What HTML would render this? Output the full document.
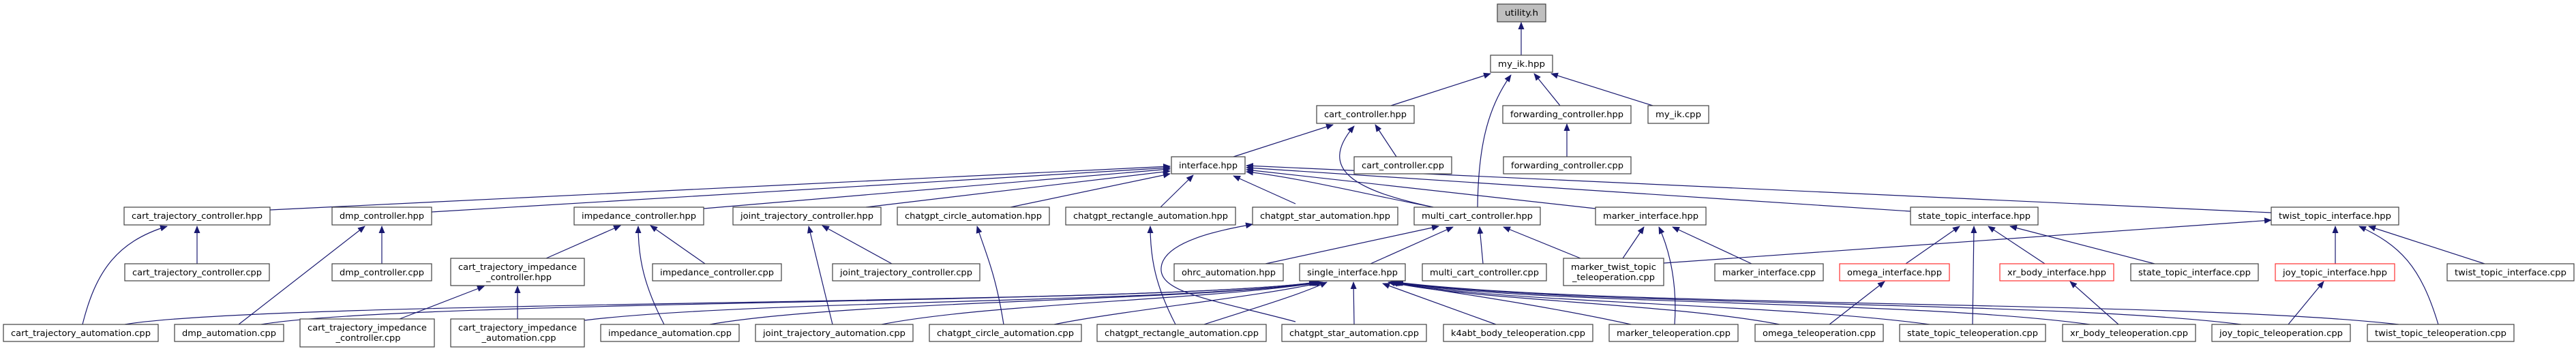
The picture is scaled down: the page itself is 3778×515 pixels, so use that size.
<!DOCTYPE html>
<html><head><meta charset="utf-8"><style>
html,body{margin:0;padding:0;background:#fff}
svg{display:block}
text{font-family:"DejaVu Sans Condensed","DejaVu Sans","Liberation Sans",sans-serif;font-size:12px;fill:#000;text-anchor:middle}
.b{fill:#fff;stroke:#404040;stroke-width:1.2}
.r{fill:#fff;stroke:#ff3030;stroke-width:1.2}
.e{fill:none;stroke:#191970;stroke-width:1.2;marker-end:url(#a)}
</style></head><body>
<svg width="3778" height="515" viewBox="0 0 3778 515" xmlns="http://www.w3.org/2000/svg">
<defs><marker id="a" markerWidth="11" markerHeight="9" refX="10" refY="4.5" orient="auto" markerUnits="userSpaceOnUse"><path d="M0,0 L11,4.5 L0,9 z" fill="#191970"/></marker></defs>

<path class="e" d="M2231,81 L2231,33"/>
<path class="e" d="M2040,155 L2186,108"/>
<path class="e" d="M2167,304 C2168,220 2180,160 2216,110"/>
<path class="e" d="M2288,155 L2250,108"/>
<path class="e" d="M2424,155 L2275,108"/>
<path class="e" d="M2298,230 L2298,182"/>
<path class="e" d="M1809,230 L1955,183"/>
<path class="e" d="M2048,230 L2017,183"/>
<path class="e" d="M2102,304 C1990,280 1930,250 1986,185"/>

<path class="e" d="M396,308 L1716,244"/>
<path class="e" d="M633,311 L1716,246"/>
<path class="e" d="M1032,306 L1716,248"/>
<path class="e" d="M1270,304 L1716,251"/>
<path class="e" d="M1482,304 L1716,255"/>
<path class="e" d="M1702,304 L1750,257"/>
<path class="e" d="M1900,299 L1809,258"/>
<path class="e" d="M2102,304 C1980,280 1900,260 1828,252"/>
<path class="e" d="M2340,306 L1828,249"/>
<path class="e" d="M2802,310 L1828,246"/>
<path class="e" d="M3331,312 L1828,243"/>

<path class="e" d="M289,387 L289,332"/>
<path class="e" d="M121,476 C140,400 170,355 245,332"/>
<path class="e" d="M560,387 L560,332"/>
<path class="e" d="M350,476 L535,332"/>
<path class="e" d="M801,379 L910,331"/>
<path class="e" d="M974,476 C945,420 936,380 936,332"/>
<path class="e" d="M1034,387 L954,331"/>
<path class="e" d="M586,468 L710,420"/>
<path class="e" d="M759,468 L759,420"/>
<path class="e" d="M1221,476 L1186,332"/>
<path class="e" d="M1308,387 L1206,331"/>
<path class="e" d="M1472,476 C1460,400 1445,370 1433,332"/>
<path class="e" d="M1724,476 C1695,420 1687,380 1687,332"/>
<path class="e" d="M1900,472 C1780,440 1700,430 1703,393 C1706,352 1800,336 1837,329"/>
<path class="e" d="M1856,387 L2110,332"/>
<path class="e" d="M2010,387 L2131,333"/>
<path class="e" d="M2175,387 L2170,333"/>
<path class="e" d="M2318,379 L2205,333"/>
<path class="e" d="M2380,379 L2411,333"/>
<path class="e" d="M2456,476 C2460,420 2450,370 2433,333"/>
<path class="e" d="M2569,387 L2453,333"/>
<path class="e" d="M2440,386 L3331,323"/>
<path class="e" d="M2795,387 L2874,332"/>
<path class="e" d="M2893,476 L2895,332"/>
<path class="e" d="M2999,387 L2916,332"/>
<path class="e" d="M3160,387 L2948,332"/>
<path class="e" d="M2683,476 L2764,413"/>
<path class="e" d="M3107,476 L3036,413"/>
<path class="e" d="M3425,387 L3425,332"/>
<path class="e" d="M3576,476 C3550,390 3520,360 3460,332"/>
<path class="e" d="M3644,387 L3474,332"/>
<path class="e" d="M3356,476 L3408,413"/>

<path class="e" d="M183,476 C400,440 1700,448 1930,414"/>
<path class="e" d="M383,476 C600,440 1700,446 1932,414"/>
<path class="e" d="M857,470 C1100,440 1750,444 1934,414"/>
<path class="e" d="M1041,476 C1250,440 1760,442 1936,414"/>
<path class="e" d="M1293,476 C1450,445 1780,440 1938,414"/>
<path class="e" d="M1546,476 C1650,455 1850,435 1940,414"/>
<path class="e" d="M1766,476 C1830,455 1900,435 1946,414"/>
<path class="e" d="M1986,476 L1985,414"/>
<path class="e" d="M2194,476 L2028,416"/>
<path class="e" d="M2392,476 C2250,445 2100,425 2036,414"/>
<path class="e" d="M2610,476 C2450,445 2150,440 2040,414"/>
<path class="e" d="M2830,476 C2600,445 2200,445 2042,414"/>
<path class="e" d="M3065,476 C2800,440 2250,448 2044,414"/>
<path class="e" d="M3287,476 C3000,440 2300,450 2046,414"/>
<path class="e" d="M3518,476 C3200,440 2350,452 2048,414"/>

<rect x="2196" y="6" width="71" height="26" fill="#bfbfbf" stroke="#404040" stroke-width="1.2"/><text x="2231.5" y="23" textLength="49" lengthAdjust="spacingAndGlyphs">utility.h</text>
<rect class="b" x="2186" y="81" width="91" height="25"/><text x="2231.5" y="98" textLength="69" lengthAdjust="spacingAndGlyphs">my_ik.hpp</text>
<rect class="b" x="1931" y="155" width="143" height="26"/><text x="2002.5" y="172" textLength="121" lengthAdjust="spacingAndGlyphs">cart_controller.hpp</text>
<rect class="b" x="2204" y="155" width="188" height="26"/><text x="2298" y="172" textLength="166" lengthAdjust="spacingAndGlyphs">forwarding_controller.hpp</text>
<rect class="b" x="2417" y="155" width="89" height="26"/><text x="2461.5" y="172" textLength="67" lengthAdjust="spacingAndGlyphs">my_ik.cpp</text>
<rect class="b" x="1718" y="230" width="108" height="25"/><text x="1772" y="247" textLength="86" lengthAdjust="spacingAndGlyphs">interface.hpp</text>
<rect class="b" x="1986" y="230" width="143" height="25"/><text x="2057.5" y="247" textLength="121" lengthAdjust="spacingAndGlyphs">cart_controller.cpp</text>
<rect class="b" x="2205" y="230" width="187" height="25"/><text x="2298.5" y="247" textLength="165" lengthAdjust="spacingAndGlyphs">forwarding_controller.cpp</text>

<rect class="b" x="182" y="304" width="214" height="26"/><text x="289" y="321" textLength="192" lengthAdjust="spacingAndGlyphs">cart_trajectory_controller.hpp</text>
<rect class="b" x="487" y="304" width="146" height="26"/><text x="560" y="321" textLength="124" lengthAdjust="spacingAndGlyphs">dmp_controller.hpp</text>
<rect class="b" x="842" y="304" width="190" height="26"/><text x="937" y="321" textLength="168" lengthAdjust="spacingAndGlyphs">impedance_controller.hpp</text>
<rect class="b" x="1075" y="304" width="217" height="26"/><text x="1183.5" y="321" textLength="195" lengthAdjust="spacingAndGlyphs">joint_trajectory_controller.hpp</text>
<rect class="b" x="1316" y="304" width="223" height="26"/><text x="1427.5" y="321" textLength="201" lengthAdjust="spacingAndGlyphs">chatgpt_circle_automation.hpp</text>
<rect class="b" x="1563" y="304" width="249" height="26"/><text x="1687.5" y="321" textLength="227" lengthAdjust="spacingAndGlyphs">chatgpt_rectangle_automation.hpp</text>
<rect class="b" x="1837" y="304" width="213" height="26"/><text x="1943.5" y="321" textLength="191" lengthAdjust="spacingAndGlyphs">chatgpt_star_automation.hpp</text>
<rect class="b" x="2074" y="304" width="185" height="26"/><text x="2166.5" y="321" textLength="163" lengthAdjust="spacingAndGlyphs">multi_cart_controller.hpp</text>
<rect class="b" x="2340" y="304" width="162" height="26"/><text x="2421" y="321" textLength="140" lengthAdjust="spacingAndGlyphs">marker_interface.hpp</text>
<rect class="b" x="2802" y="304" width="187" height="26"/><text x="2895.5" y="321" textLength="165" lengthAdjust="spacingAndGlyphs">state_topic_interface.hpp</text>
<rect class="b" x="3331" y="304" width="187" height="26"/><text x="3424.5" y="321" textLength="165" lengthAdjust="spacingAndGlyphs">twist_topic_interface.hpp</text>

<rect class="b" x="183" y="387" width="212" height="25"/><text x="289" y="404" textLength="190" lengthAdjust="spacingAndGlyphs">cart_trajectory_controller.cpp</text>
<rect class="b" x="487" y="387" width="146" height="25"/><text x="560" y="404" textLength="124" lengthAdjust="spacingAndGlyphs">dmp_controller.cpp</text>
<rect class="b" x="661" y="379" width="196" height="40"/><text x="759" y="396" textLength="174" lengthAdjust="spacingAndGlyphs">cart_trajectory_impedance</text><text x="761" y="411" textLength="96" lengthAdjust="spacingAndGlyphs">_controller.hpp</text>
<rect class="b" x="957" y="387" width="189" height="25"/><text x="1051.5" y="404" textLength="167" lengthAdjust="spacingAndGlyphs">impedance_controller.cpp</text>
<rect class="b" x="1221" y="387" width="216" height="25"/><text x="1329" y="404" textLength="194" lengthAdjust="spacingAndGlyphs">joint_trajectory_controller.cpp</text>
<rect class="b" x="1722" y="387" width="160" height="25"/><text x="1802" y="404" textLength="138" lengthAdjust="spacingAndGlyphs">ohrc_automation.hpp</text>
<rect class="b" x="1906" y="387" width="155" height="25"/><text x="1983.5" y="404" textLength="133" lengthAdjust="spacingAndGlyphs">single_interface.hpp</text>
<rect class="b" x="2086" y="387" width="182" height="25"/><text x="2177" y="404" textLength="160" lengthAdjust="spacingAndGlyphs">multi_cart_controller.cpp</text>
<rect class="b" x="2293" y="379" width="147" height="40"/><text x="2366.5" y="396" textLength="125" lengthAdjust="spacingAndGlyphs">marker_twist_topic</text><text x="2366.5" y="411" textLength="121" lengthAdjust="spacingAndGlyphs">_teleoperation.cpp</text>
<rect class="b" x="2515" y="387" width="159" height="25"/><text x="2594.5" y="404" textLength="137" lengthAdjust="spacingAndGlyphs">marker_interface.cpp</text>
<rect class="r" x="2698" y="387" width="161" height="25"/><text x="2778.5" y="404" textLength="139" lengthAdjust="spacingAndGlyphs">omega_interface.hpp</text>
<rect class="r" x="2933" y="387" width="167" height="25"/><text x="3016.5" y="404" textLength="145" lengthAdjust="spacingAndGlyphs">xr_body_interface.hpp</text>
<rect class="b" x="3125" y="387" width="187" height="25"/><text x="3218.5" y="404" textLength="165" lengthAdjust="spacingAndGlyphs">state_topic_interface.cpp</text>
<rect class="r" x="3337" y="387" width="175" height="25"/><text x="3424.5" y="404" textLength="153" lengthAdjust="spacingAndGlyphs">joy_topic_interface.hpp</text>
<rect class="b" x="3589" y="387" width="186" height="25"/><text x="3682" y="404" textLength="164" lengthAdjust="spacingAndGlyphs">twist_topic_interface.cpp</text>

<rect class="b" x="5" y="476" width="227" height="25"/><text x="118.5" y="493" textLength="205" lengthAdjust="spacingAndGlyphs">cart_trajectory_automation.cpp</text>
<rect class="b" x="256" y="476" width="160" height="25"/><text x="336" y="493" textLength="138" lengthAdjust="spacingAndGlyphs">dmp_automation.cpp</text>
<rect class="b" x="440" y="468" width="197" height="41"/><text x="538.5" y="485" textLength="175" lengthAdjust="spacingAndGlyphs">cart_trajectory_impedance</text><text x="540" y="500" textLength="95" lengthAdjust="spacingAndGlyphs">_controller.cpp</text>
<rect class="b" x="661" y="468" width="196" height="41"/><text x="759" y="485" textLength="174" lengthAdjust="spacingAndGlyphs">cart_trajectory_impedance</text><text x="761" y="500" textLength="109" lengthAdjust="spacingAndGlyphs">_automation.cpp</text>
<rect class="b" x="881" y="476" width="203" height="25"/><text x="982.5" y="493" textLength="181" lengthAdjust="spacingAndGlyphs">impedance_automation.cpp</text>
<rect class="b" x="1108" y="476" width="231" height="25"/><text x="1223.5" y="493" textLength="209" lengthAdjust="spacingAndGlyphs">joint_trajectory_automation.cpp</text>
<rect class="b" x="1363" y="476" width="223" height="25"/><text x="1474.5" y="493" textLength="201" lengthAdjust="spacingAndGlyphs">chatgpt_circle_automation.cpp</text>
<rect class="b" x="1609" y="476" width="248" height="25"/><text x="1733" y="493" textLength="226" lengthAdjust="spacingAndGlyphs">chatgpt_rectangle_automation.cpp</text>
<rect class="b" x="1880" y="476" width="212" height="25"/><text x="1986" y="493" textLength="190" lengthAdjust="spacingAndGlyphs">chatgpt_star_automation.cpp</text>
<rect class="b" x="2117" y="476" width="219" height="25"/><text x="2226.5" y="493" textLength="197" lengthAdjust="spacingAndGlyphs">k4abt_body_teleoperation.cpp</text>
<rect class="b" x="2360" y="476" width="189" height="25"/><text x="2454.5" y="493" textLength="167" lengthAdjust="spacingAndGlyphs">marker_teleoperation.cpp</text>
<rect class="b" x="2574" y="476" width="188" height="25"/><text x="2668" y="493" textLength="166" lengthAdjust="spacingAndGlyphs">omega_teleoperation.cpp</text>
<rect class="b" x="2786" y="476" width="214" height="25"/><text x="2893" y="493" textLength="192" lengthAdjust="spacingAndGlyphs">state_topic_teleoperation.cpp</text>
<rect class="b" x="3025" y="476" width="195" height="25"/><text x="3122.5" y="493" textLength="173" lengthAdjust="spacingAndGlyphs">xr_body_teleoperation.cpp</text>
<rect class="b" x="3244" y="476" width="203" height="25"/><text x="3345.5" y="493" textLength="181" lengthAdjust="spacingAndGlyphs">joy_topic_teleoperation.cpp</text>
<rect class="b" x="3472" y="476" width="215" height="25"/><text x="3579.5" y="493" textLength="193" lengthAdjust="spacingAndGlyphs">twist_topic_teleoperation.cpp</text>
</svg>
</body></html>
